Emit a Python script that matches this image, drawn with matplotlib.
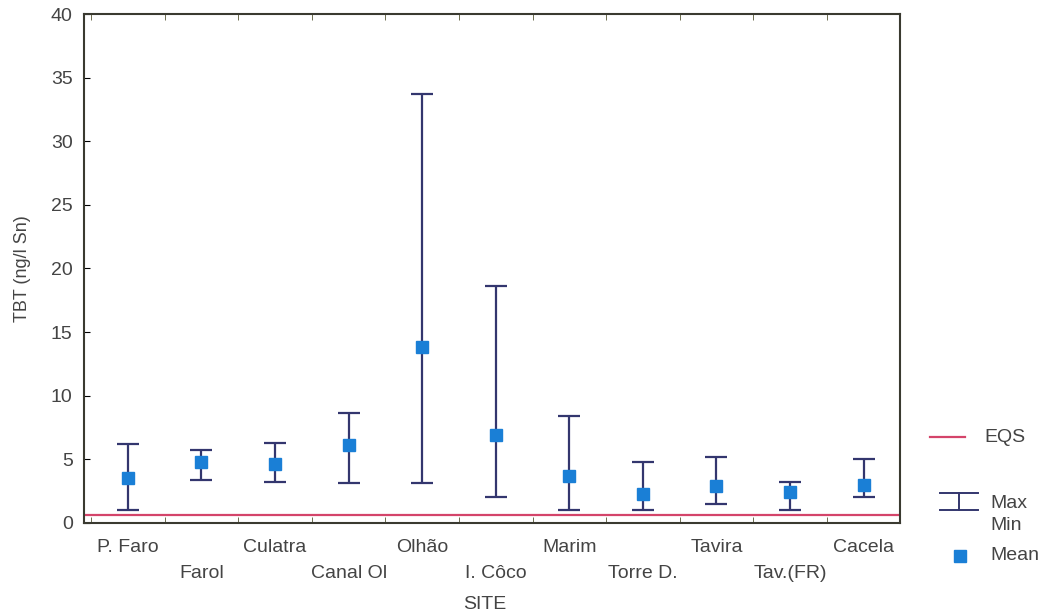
import matplotlib
matplotlib.use("Agg")
import matplotlib.pyplot as plt
from matplotlib.lines import Line2D
import numpy as np

plt.rcParams['font.family'] = ['Liberation Sans', 'DejaVu Sans']

sites = ["P. Faro", "Farol", "Culatra", "Canal Ol", "Olhão", "I. Côco",
         "Marim", "Torre D.", "Tavira", "Tav.(FR)", "Cacela"]
tbt_max = [6.2, 5.7, 6.3, 8.6, 33.7, 18.6, 8.4, 4.8, 5.2, 3.2, 5.0]
tbt_mean = [3.5, 4.8, 4.6, 6.1, 13.8, 6.9, 3.7, 2.3, 2.9, 2.4, 3.0]
tbt_min = [1.0, 3.4, 3.2, 3.1, 3.1, 2.0, 1.0, 1.0, 1.5, 1.0, 2.0]
eqs = 0.6

bar_col = "#33366e"
mean_col = "#1a7fd6"
eqs_col = "#d4446a"
txt_col = "#444444"

fig = plt.figure(figsize=(10.47, 6.15), dpi=100)
ax = fig.add_axes([0.080, 0.150, 0.780, 0.827])

x = np.arange(len(sites))
mean = np.array(tbt_mean)
lo = mean - np.array(tbt_min)
hi = np.array(tbt_max) - mean

ax.axhline(eqs, color=eqs_col, lw=1.6, zorder=1)
ax.errorbar(x, mean, yerr=[lo, hi], fmt='none', ecolor=bar_col,
            elinewidth=1.6, capsize=8, capthick=1.6, zorder=2)
ax.plot(x, mean, 's', color=mean_col, ms=9, zorder=3)

ax.set_xlim(-0.6, 10.45)
ax.set_ylim(0, 40)
ax.set_yticks(range(0, 41, 5))
ax.set_xticks(x)
ax.set_xticklabels([])
ax.set_xticks(np.arange(-0.5, 10.6, 1), minor=True)
ax.tick_params(axis='x', which='major', length=0)
ax.tick_params(axis='x', which='minor', direction='in', length=4,
               top=True, bottom=True, color='#555533')
ax.tick_params(axis='y', direction='in', length=4, labelsize=14,
               labelcolor=txt_col, pad=8)

for i, s in enumerate(sites):
    off = -0.032 if i % 2 == 0 else -0.083
    ax.text(x[i], off, s, transform=ax.get_xaxis_transform(),
            ha='center', va='top', fontsize=14, color=txt_col)

for sp in ax.spines.values():
    sp.set_color('#3a3a30')
    sp.set_linewidth(1.5)

ax.set_ylabel("TBT (ng/l Sn)", fontsize=13, color=txt_col, labelpad=14)
fig.text(0.463, 0.004, "SITE", ha='center', va='bottom', fontsize=14,
         color=txt_col)

# legend
fig.add_artist(Line2D([0.888, 0.922], [0.289, 0.289], color=eqs_col, lw=1.6))
fig.text(0.940, 0.289, "EQS", va='center', fontsize=14, color=txt_col)
fig.add_artist(Line2D([0.898, 0.934], [0.198, 0.198], color=bar_col, lw=1.4))
fig.add_artist(Line2D([0.898, 0.934], [0.170, 0.170], color=bar_col, lw=1.4))
fig.add_artist(Line2D([0.916, 0.916], [0.170, 0.198], color=bar_col, lw=1.4))
fig.text(0.946, 0.181, "Max", va='center', fontsize=14, color=txt_col)
fig.text(0.946, 0.145, "Min", va='center', fontsize=14, color=txt_col)
fig.add_artist(Line2D([0.917], [0.096], marker='s', color=mean_col, ms=8, ls='none'))
fig.text(0.946, 0.096, "Mean", va='center', fontsize=14, color=txt_col)

fig.savefig("out.png", dpi=100)
